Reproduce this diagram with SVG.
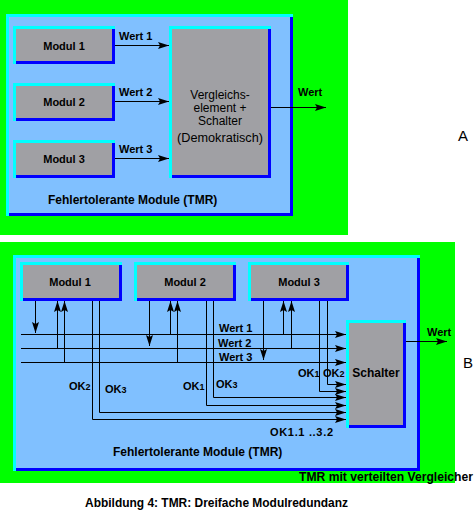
<svg xmlns="http://www.w3.org/2000/svg" width="474" height="519" viewBox="0 0 474 519">
<style>
.bg{fill:#00ff00}
.hi{fill:#00ffff}
.lo{fill:#0000ff}
.panel{fill:#80c0ff}
.box{fill:#a0a0a4}
.t{font-family:"Liberation Sans",Arial,sans-serif;font-weight:bold;font-size:11px;fill:#000}
.r{font-weight:normal;font-size:12px}
.c{text-anchor:middle}
.s{font-size:9px}
.w{stroke:#000;stroke-width:1;fill:none}
.a{marker-end:url(#ah)}
.big{font-family:"Liberation Sans",Arial,sans-serif;font-size:15px;fill:#000}
</style>
<defs>
<marker id="ah" markerUnits="userSpaceOnUse" markerWidth="12" markerHeight="8" refX="11" refY="4" orient="auto" viewBox="0 0 12 8"><path d="M0,0.5 L11,4 L0,7.5 L2,4 z" fill="#000"/></marker>
</defs>

<!-- Part A -->
<rect class="bg" x="0" y="0" width="348" height="235"/>
<g id="panelA">
<rect class="hi" x="6" y="14" width="287" height="202"/>
<rect class="lo" x="9" y="17" width="284" height="199"/>
<rect class="panel" x="9" y="17" width="281" height="196"/>
<text class="t" x="48" y="204" style="font-size:12px">Fehlertolerante Module (TMR)</text>
</g>
<g id="a_modul1">
<rect class="hi" x="13" y="26" width="102" height="38"/>
<rect class="lo" x="16" y="29" width="99" height="35"/>
<rect class="box" x="16" y="29" width="96" height="32"/>
<text class="t c" x="64" y="50">Modul 1</text>
</g>
<g id="a_modul2">
<rect class="hi" x="13" y="83" width="102" height="38"/>
<rect class="lo" x="16" y="86" width="99" height="35"/>
<rect class="box" x="16" y="86" width="96" height="32"/>
<text class="t c" x="64" y="106">Modul 2</text>
</g>
<g id="a_modul3">
<rect class="hi" x="13" y="140" width="102" height="38"/>
<rect class="lo" x="16" y="143" width="99" height="35"/>
<rect class="box" x="16" y="143" width="96" height="32"/>
<text class="t c" x="64" y="163">Modul 3</text>
</g>
<g id="a_vergleich">
<rect class="hi" x="169" y="26" width="102" height="152"/>
<rect class="lo" x="172" y="29" width="99" height="149"/>
<rect class="box" x="172" y="29" width="96" height="146"/>
<text class="t r c" x="220" y="99">Vergleichs-</text>
<text class="t r c" x="220" y="112">element +</text>
<text class="t r c" x="220" y="125">Schalter</text>
<text class="t r c" x="220" y="142" textLength="86" lengthAdjust="spacingAndGlyphs">(Demokratisch)</text>
</g>
<g id="a_connectors">
<line class="w a" x1="115" y1="45.5" x2="169" y2="45.5"/>
<line class="w a" x1="115" y1="101.5" x2="169" y2="101.5"/>
<line class="w a" x1="115" y1="158.5" x2="169" y2="158.5"/>
<line class="w a" x1="271" y1="107.5" x2="326" y2="107.5"/>
<text class="t" x="119" y="40">Wert 1</text>
<text class="t" x="119" y="96">Wert 2</text>
<text class="t" x="119" y="153">Wert 3</text>
<text class="t" x="298" y="96">Wert</text>
</g>
<text class="big" x="458" y="141">A</text>

<!-- Part B -->
<rect class="bg" x="0" y="242" width="455" height="241"/>
<g id="panelB">
<rect class="hi" x="13" y="255" width="407" height="216"/>
<rect class="lo" x="16" y="258" width="404" height="213"/>
<rect class="panel" x="16" y="258" width="401" height="210"/>
<text class="t" x="113" y="456" style="font-size:12px">Fehlertolerante Module (TMR)</text>
</g>
<g id="b_modul1">
<rect class="hi" x="20" y="262" width="102" height="39"/>
<rect class="lo" x="23" y="265" width="99" height="36"/>
<rect class="box" x="23" y="265" width="96" height="33"/>
<text class="t c" x="70" y="286">Modul 1</text>
</g>
<g id="b_modul2">
<rect class="hi" x="134" y="262" width="102" height="39"/>
<rect class="lo" x="137" y="265" width="99" height="36"/>
<rect class="box" x="137" y="265" width="96" height="33"/>
<text class="t c" x="185" y="286">Modul 2</text>
</g>
<g id="b_modul3">
<rect class="hi" x="248" y="262" width="101" height="39"/>
<rect class="lo" x="251" y="265" width="98" height="36"/>
<rect class="box" x="251" y="265" width="95" height="33"/>
<text class="t c" x="299" y="286">Modul 3</text>
</g>
<g id="b_schalter">
<rect class="hi" x="346" y="320" width="60" height="108"/>
<rect class="lo" x="349" y="323" width="57" height="105"/>
<rect class="box" x="349" y="323" width="54" height="102"/>
<text class="t c" x="376" y="377" style="font-size:12px">Schalter</text>
</g>
<g id="b_connectors">
<line class="w a" x1="21" y1="334.5" x2="346" y2="334.5"/>
<line class="w a" x1="21" y1="348.5" x2="346" y2="348.5"/>
<line class="w a" x1="21" y1="362.5" x2="346" y2="362.5"/>
<line class="w a" x1="35.5" y1="301" x2="35.5" y2="333"/>
<line class="w a" x1="57.5" y1="348.5" x2="57.5" y2="301"/>
<line class="w a" x1="64.5" y1="362.5" x2="64.5" y2="301"/>
<polyline class="w a" points="92.5,301 92.5,419.5 346,419.5"/>
<polyline class="w a" points="99.5,301 99.5,412.5 346,412.5"/>
<line class="w a" x1="149.5" y1="301" x2="149.5" y2="346"/>
<line class="w a" x1="170.5" y1="334.5" x2="170.5" y2="301"/>
<line class="w a" x1="177.5" y1="362.5" x2="177.5" y2="301"/>
<polyline class="w a" points="206.5,301 206.5,405.5 346,405.5"/>
<polyline class="w a" points="213.5,301 213.5,397.5 346,397.5"/>
<line class="w a" x1="263.5" y1="301" x2="263.5" y2="360"/>
<line class="w a" x1="283.5" y1="334.5" x2="283.5" y2="301"/>
<line class="w a" x1="291.5" y1="348.5" x2="291.5" y2="301"/>
<polyline class="w a" points="319.5,301 319.5,391.5 346,391.5"/>
<polyline class="w a" points="327.5,301 327.5,384.5 346,384.5"/>
<line class="w a" x1="406" y1="341.5" x2="447" y2="341.5"/>
<text class="t" x="219" y="332">Wert 1</text>
<text class="t" x="218" y="347">Wert 2</text>
<text class="t" x="219" y="361">Wert 3</text>
<text class="t" x="427" y="336">Wert</text>
<text class="t" x="69" y="390">OK<tspan class="s">2</tspan></text>
<text class="t" x="105" y="393">OK<tspan class="s">3</tspan></text>
<text class="t" x="183" y="390">OK<tspan class="s">1</tspan></text>
<text class="t" x="216" y="388">OK<tspan class="s">3</tspan></text>
<text class="t" x="298" y="377">OK<tspan class="s">1</tspan></text>
<text class="t" x="323" y="377">OK<tspan class="s">2</tspan></text>
<text class="t" x="270" y="436" textLength="63" lengthAdjust="spacing">OK1.1 ..3.2</text>
</g>
<text class="big" x="463" y="368">B</text>
<text class="t" x="299" y="481" style="font-size:12px" textLength="174" lengthAdjust="spacingAndGlyphs">TMR mit verteilten Vergleicher</text>
<text class="t" x="85" y="507" style="font-size:12px" textLength="263" lengthAdjust="spacingAndGlyphs">Abbildung 4: TMR: Dreifache Modulredundanz</text>
</svg>
